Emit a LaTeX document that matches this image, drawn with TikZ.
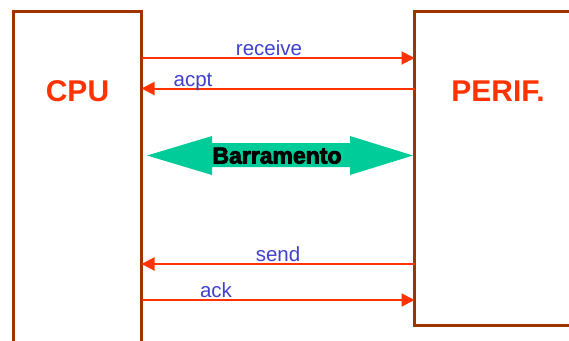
\documentclass[tikz,border=0pt]{standalone}
\usepackage{fontspec}
\setmainfont{Liberation Sans}
\newfontface\heavyfont{Liberation Sans Bold}[FakeBold=3.5]
\usetikzlibrary{arrows.meta}
\definecolor{boxedge}{RGB}{160,52,0}
\definecolor{sigred}{RGB}{255,51,0}
\definecolor{sigblue}{RGB}{64,64,208}
\definecolor{busgreen}{RGB}{0,204,153}
\tikzset{
  unit/.style={draw=boxedge, line width=3pt, fill=white, inner sep=0pt, outer sep=0pt, anchor=north west},
  unitname/.style={text=sigred, font=\bfseries\fontsize{30}{30}\selectfont, anchor=base},
  signal/.style={draw=sigred, line width=2pt, -{Triangle[length=13pt,width=13pt]}},
  siglabel/.style={text=sigblue, font=\fontsize{20.5}{20.5}\selectfont, anchor=base, inner sep=0pt},
}
\begin{document}
\begin{tikzpicture}[x=1pt,y=-1pt]
  \useasboundingbox (0,0) rectangle (569,340);
  \clip (0,0) rectangle (569,340);

  % the two units
  \node[unit, minimum width=128pt, minimum height=345pt] (cpu) at (13.5,11.5) {};
  \node[unit, minimum width=200pt, minimum height=314pt] (perif) at (414.5,11.5) {};
  \node[unitname] (cpuname) at (77.5,101.5) {CPU};
  \node[unitname] (perifname) at (498,101.5) {PERIF.};

  % handshake signals
  \draw[signal] (cpu.east |- 0,58) -- (perif.west |- 0,58);
  \draw[signal] (perif.west |- 0,88.5) -- (cpu.east |- 0,88.5);
  \draw[signal] (perif.west |- 0,264) -- (cpu.east |- 0,264);
  \draw[signal] (cpu.east |- 0,300) -- (perif.west |- 0,300);
  \node[siglabel] (lreceive) at (269,55.5) {receive};
  \node[siglabel] (lacpt) at (193,86.5) {acpt};
  \node[siglabel] (lsend) at (278,261.5) {send};
  \node[siglabel] (lack) at (216,297.5) {ack};

  % bus
  \fill[busgreen] (147,155.5) -- (212,136) -- (212,143) -- (350,143) -- (350,136)
    -- (413,155.5) -- (350,175) -- (350,167) -- (212,167) -- (212,175) -- cycle;
  \node[anchor=base, inner sep=0pt, font=\heavyfont\fontsize{23}{23}\selectfont] (bus) at (277,163.5) {Barramento};
\end{tikzpicture}
\end{document}
